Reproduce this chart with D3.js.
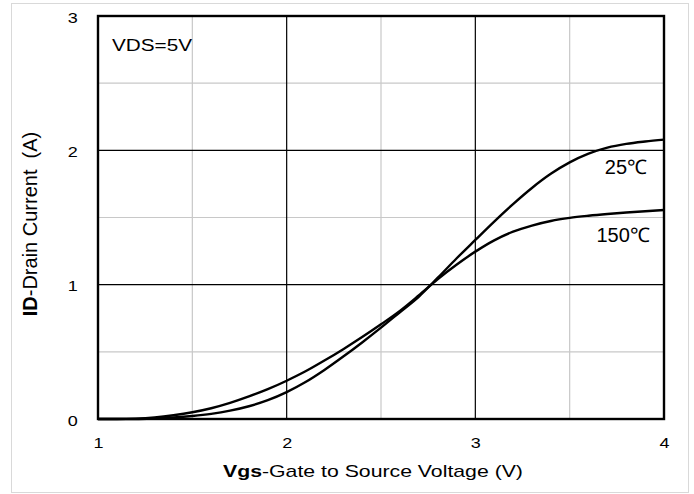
<!DOCTYPE html>
<html><head><meta charset="utf-8">
<script src="https://cdn.jsdelivr.net/npm/d3@7"></script>
<style>body{margin:0;background:#fff}svg{display:block}text{font-family:"Liberation Sans",Arial,sans-serif;fill:#000}</style>
</head><body><svg id="c" width="694" height="494"></svg>
<script>
// ---- data ----
const vgs   = [1.0,1.1,1.2,1.3,1.4,1.5,1.6,1.7,1.8,1.9,2.0,2.1,2.2,2.3,2.4,2.5,2.6,2.7,2.8,2.9,3.0,3.1,3.2,3.3,3.4,3.5,3.6,3.7,3.8,3.9,4.0];
const id25  = [0,0,0,0.004,0.011,0.022,0.038,0.062,0.095,0.14,0.2,0.275,0.365,0.465,0.57,0.68,0.795,0.91,1.05,1.195,1.333,1.47,1.6,1.72,1.825,1.91,1.975,2.02,2.048,2.066,2.08];
const id150 = [0,0,0.003,0.012,0.028,0.05,0.08,0.12,0.168,0.222,0.285,0.355,0.435,0.52,0.61,0.705,0.805,0.92,1.04,1.148,1.246,1.33,1.395,1.44,1.474,1.497,1.513,1.526,1.537,1.547,1.556];
const seriesNames = ["25℃","150℃"];
const xTicks = [1,2,3,4];
const yTicks = [0,1,2,3];
const xMinor = [1.5,2.5,3.5];
const yMinor = [0.5,1.5,2.5];
const noteText = "VDS=5V";

// ---- layout ----
const L=98,R=664,T=16,B=419;
const svg=d3.select("#c");
const x=d3.scaleLinear().domain([1,4]).range([L,R]);
const y=d3.scaleLinear().domain([0,3]).range([B,T]);

svg.append("rect").attr("x",11.5).attr("y",3.5).attr("width",677).attr("height",489)
  .attr("fill","#fff").attr("stroke","#d9d9d9").attr("stroke-width",1);

// minor grid
const g=svg.append("g");
g.selectAll(".vm").data(xMinor).join("line").attr("class","vm").attr("x1",d=>x(d)).attr("x2",d=>x(d)).attr("y1",T).attr("y2",B)
  .attr("stroke","#c8c8c8").attr("stroke-width",1.2);
g.selectAll(".hm").data(yMinor).join("line").attr("class","hm").attr("y1",d=>y(d)).attr("y2",d=>y(d)).attr("x1",L).attr("x2",R)
  .attr("stroke","#c8c8c8").attr("stroke-width",1.2);
// major grid
g.selectAll(".vM").data(xTicks.slice(1,-1)).join("line").attr("class","vM").attr("x1",d=>x(d)).attr("x2",d=>x(d)).attr("y1",T).attr("y2",B)
  .attr("stroke","#000").attr("stroke-width",1.2);
g.selectAll(".hM").data(yTicks.slice(1,-1)).join("line").attr("class","hM").attr("y1",d=>y(d)).attr("y2",d=>y(d)).attr("x1",L).attr("x2",R)
  .attr("stroke","#000").attr("stroke-width",1.2);

// curves
const line=d3.line().x(d=>x(d[0])).y(d=>y(d[1])).curve(d3.curveMonotoneX);
[id25,id150].forEach(s=>{
  svg.append("path").datum(vgs.map((v,i)=>[v,s[i]])).attr("d",line)
    .attr("fill","none").attr("stroke","#000").attr("stroke-width",2.4);
});

// frame
svg.append("rect").attr("x",L).attr("y",T).attr("width",R-L).attr("height",B-T)
  .attr("fill","none").attr("stroke","#000").attr("stroke-width",2.4);

// axes (labels only)
const xa=svg.append("g").attr("transform",`translate(0,${B})`)
  .call(d3.axisBottom(x).tickValues(xTicks).tickSize(0).tickPadding(18).tickFormat(d3.format("d")));
xa.select(".domain").remove();
xa.selectAll("text").attr("font-size",15).attr("font-family",null).attr("transform","scale(1.2,1)");
const ya=svg.append("g").attr("transform",`translate(${L},0)`)
  .call(d3.axisLeft(y).tickValues(yTicks).tickSize(0).tickPadding(16).tickFormat(d3.format("d")));
ya.select(".domain").remove();
ya.selectAll("text").attr("font-size",15).attr("font-family",null).attr("text-anchor","middle")
  .attr("x",-21).attr("dy","0.42em").attr("transform","scale(1.2,1)");

// note
svg.append("text").attr("transform",`translate(112,51) scale(1.22,1)`).attr("font-size",17).text(noteText);

// series labels
svg.append("text").attr("transform",`translate(${x(3.91)},${y(1.825)})`).attr("text-anchor","end").attr("font-size",20).text(seriesNames[0]);
svg.append("text").attr("transform",`translate(${x(3.925)},${y(1.32)})`).attr("text-anchor","end").attr("font-size",20).text(seriesNames[1]);

// axis titles
const xt=svg.append("text").attr("transform",`translate(373,477) scale(1.25,1)`).attr("text-anchor","middle").attr("font-size",17);
xt.append("tspan").attr("font-weight","bold").text("Vgs");
xt.append("tspan").text("-Gate to Source Voltage (V)");
const yt=svg.append("text").attr("transform",`translate(37,224) rotate(-90)`).attr("text-anchor","middle").attr("font-size",20).style("white-space","pre");
yt.append("tspan").attr("font-weight","bold").text("ID");
yt.append("tspan").text("-Drain Current  (A)");
</script></body></html>
